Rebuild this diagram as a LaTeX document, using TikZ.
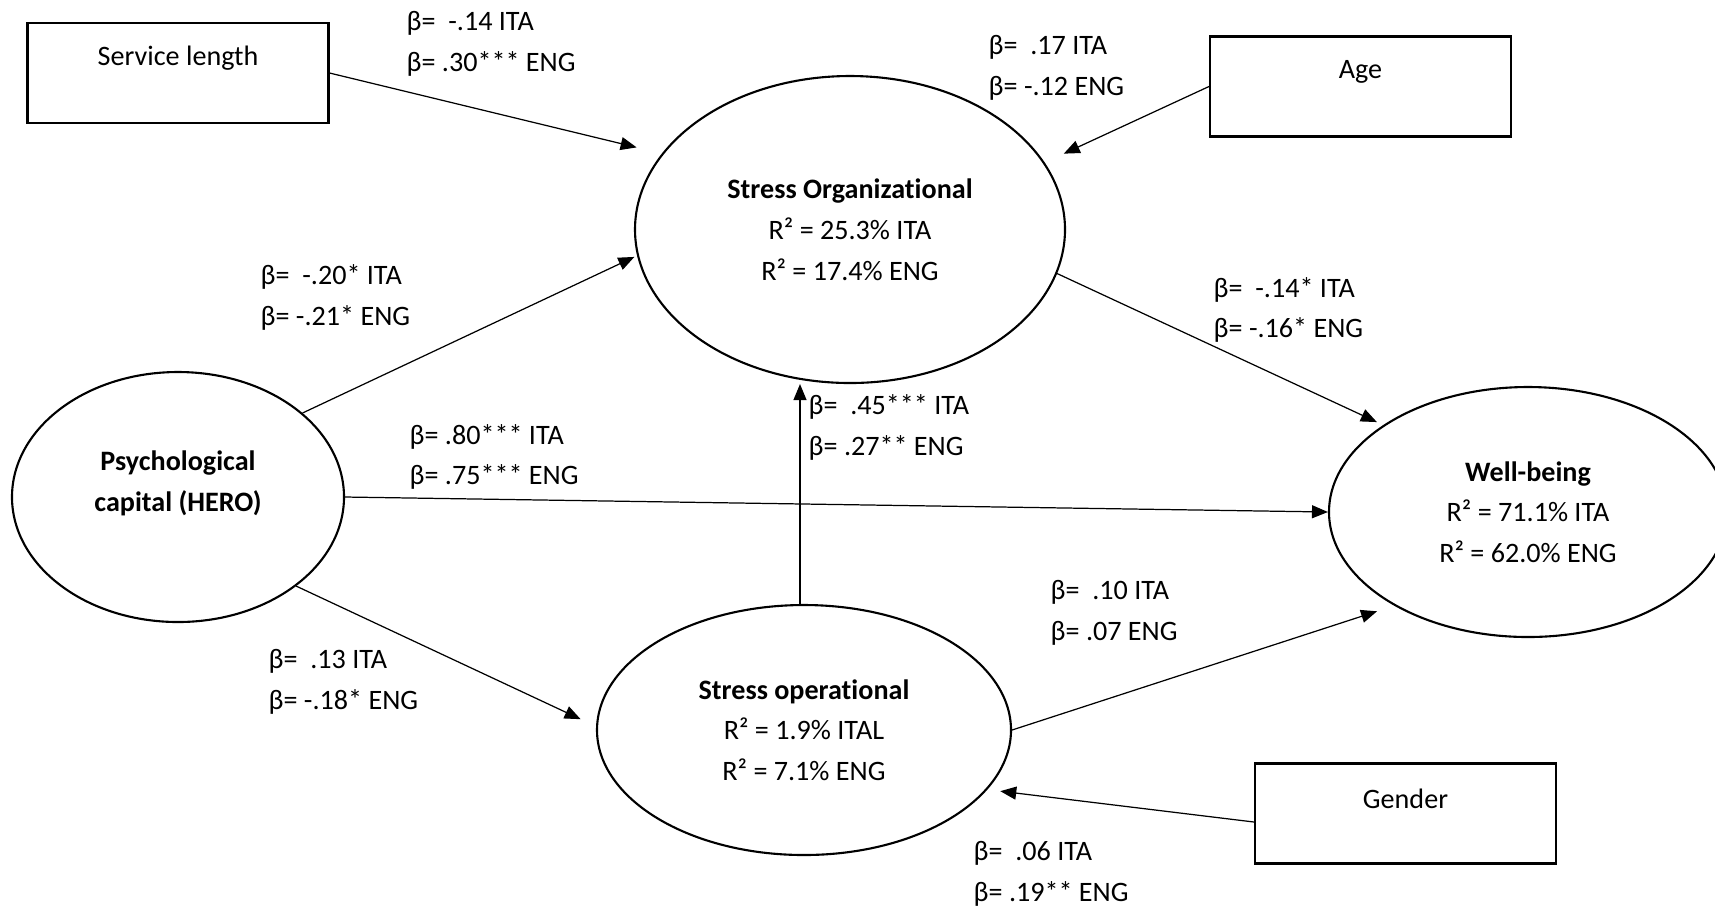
\documentclass[tikz,border=0pt]{standalone}
\usepackage{fontspec}
\setmainfont[Ligatures=NoCommon]{Carlito}
\usetikzlibrary{
  shapes.geometric,
  arrows.meta,
  positioning}

\begin{document}
\begin{tikzpicture}[
    font=\fontsize{8}{11.6}\selectfont,
    box/.style={
      rectangle,
      draw=black,
      line width=0.6pt,
      minimum width=3.01cm,
      minimum height=1cm
    },
    latent/.style={
      ellipse,
      draw=black,
      line width=0.6pt,
      inner sep=0pt,
      align=center
    },
    coef/.style={
      align=left,
      anchor=west,
      inner sep=0pt
    },
    effect/.style={
      -{Triangle[length=0.16cm,width=0.13cm]},
      line width=0.35pt
    }
  ]%
  \useasboundingbox (0,0) rectangle (17.15,-9.08);

  % Covariates
  \node[box] (svc) at (1.78,-0.73) {};
  \node[
    yshift=0.145cm
  ] (svctxt) at (svc) {Service length};

  \node[box] (age) at (13.605,-0.865) {};
  \node[
    yshift=0.145cm
  ] (agetxt) at (age) {Age};

  \node[box] (gnd) at (14.055,-8.135) {};
  \node[
    yshift=0.145cm
  ] (gndtxt) at (gnd) {Gender};

  % Latent variables
  \node[
    latent,
    minimum width=4.30cm,
    minimum height=3.07cm
  ] (sorg) at (8.50,-2.295)
    {\textbf{Stress Organizational}\\R² = 25.3\% ITA\\R² = 17.4\% ENG};

  \node[
    latent,
    minimum width=3.32cm,
    minimum height=2.50cm
  ] (psy) at (1.78,-4.97) {};
  \node[
    align=center,
    yshift=0.14cm
  ] (psytxt) at (psy) {\textbf{Psychological}\\\textbf{capital (HERO)}};

  \node[
    latent,
    minimum width=4.14cm,
    minimum height=2.50cm
  ] (sop) at (8.04,-7.30)
    {\textbf{Stress operational}\\R² = 1.9\% ITAL\\R² = 7.1\% ENG};

  \node[
    latent,
    minimum width=3.98cm,
    minimum height=2.50cm
  ] (wb) at (15.28,-5.12)
    {\textbf{Well-being}\\R² = 71.1\% ITA\\R² = 62.0\% ENG};

  % Paths
  \draw[effect, shorten >=0.26cm] (svc.east) -- (sorg.158);
  \draw[effect, shorten >=0.21cm] (age.west) -- (sorg.19);
  \draw[effect, shorten >=0.03cm] (psy.34) -- (sorg.187);
  \draw[effect] (psy.east) -- (wb.west);
  \draw[effect, shorten >=0.17cm] (psy.-37) -- (sop.179);
  \draw[effect]
    ([xshift=-0.04cm]sop.north) -- ([xshift=-0.04cm]sop.north |- sorg.south);
  \draw[effect, shorten >=0.07cm] (sorg.-12) -- (wb.149);
  \draw[effect, shorten >=0.18cm] (sop.east) -- (wb.215);
  \draw[effect, shorten >=0.13cm] ([yshift=-0.085cm]gnd.west) -- (sop.-18);

  % Coefficients
  \node[coef] (bsvc) at (4.06,-0.44) {β=~~-.14 ITA\\β= .30*** ENG};
  \node[coef] (bage) at (9.88,-0.675) {β=~~.17 ITA\\β= -.12 ENG};
  \node[coef] (bpsyorg) at (2.60,-2.975) {β=~~-.20* ITA\\β= -.21* ENG};
  \node[coef] (borgwb) at (12.13,-3.10) {β=~~-.14* ITA\\β= -.16* ENG};
  \node[coef] (boporg) at (8.08,-4.275) {β=~~.45*** ITA\\β= .27** ENG};
  \node[coef] (bpsywb) at (4.09,-4.57) {β= .80*** ITA\\β= .75*** ENG};
  \node[coef] (bopwb) at (10.50,-6.125) {β=~~.10 ITA\\β= .07 ENG};
  \node[coef] (bpsyop) at (2.68,-6.815) {β=~~.13 ITA\\β= -.18* ENG};
  \node[coef] (bgnd) at (9.73,-8.74) {β=~~.06 ITA\\β= .19** ENG};

\end{tikzpicture}
\end{document}
